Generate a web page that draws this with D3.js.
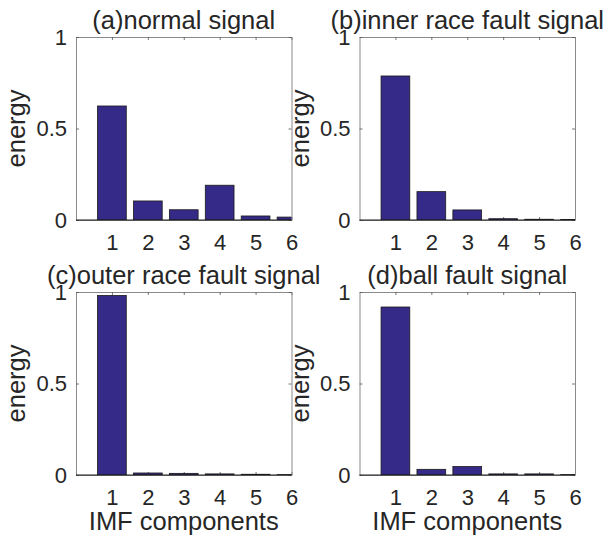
<!DOCTYPE html>
<html>
<head>
<meta charset="utf-8">
<script src="https://cdn.jsdelivr.net/npm/d3@7"></script>
<style>
  body { margin: 0; background: #fff; }
  text { font-family: "Liberation Sans", Arial, sans-serif; fill: #262626; }
</style>
</head>
<body>
<div id="chart"></div>
<script>
// IMF component index and y ticks
const components = [1, 2, 3, 4, 5, 6];
const yTickValues = [0, 0.5, 1];

// energy of each IMF component
const normalEnergy = [0.623, 0.104, 0.056, 0.190, 0.022, 0.016];
const innerRaceEnergy = [0.787, 0.155, 0.055, 0.007, 0.004, 0.003];
const outerRaceEnergy = [0.981, 0.011, 0.009, 0.006, 0.004, 0.002];
const ballEnergy = [0.918, 0.031, 0.046, 0.006, 0.006, 0.002];

const titles = ["(a)normal signal", "(b)inner race fault signal",
                "(c)outer race fault signal", "(d)ball fault signal"];

const svgW = 609, svgH = 536;
const axW = 215.5, axH = 183;
const barColor = "#352a87";

// panel layout (left, top of the axes box)
const panels = [
  { title: titles[0], values: normalEnergy,    left: 76,    top: 37,  xlabel: false },
  { title: titles[1], values: innerRaceEnergy, left: 359.5, top: 37,  xlabel: false },
  { title: titles[2], values: outerRaceEnergy, left: 76,    top: 292, xlabel: true },
  { title: titles[3], values: ballEnergy,      left: 359.5, top: 292, xlabel: true }
];

const svg = d3.select("#chart")
  .append("svg")
  .attr("width", svgW)
  .attr("height", svgH);

panels.forEach((p, i) => {
  const g = svg.append("g")
    .attr("transform", `translate(${p.left},${p.top})`);

  const x = d3.scaleLinear().domain([0, 6]).range([0, axW]);
  const y = d3.scaleLinear().domain([0, 1]).range([axH, 0]);
  const barW = x(0.8) - x(0);

  // clip to the axes box (bar 6 is cut in half at the right edge)
  g.append("clipPath")
    .attr("id", "clip" + i)
    .append("rect")
    .attr("width", axW)
    .attr("height", axH);

  // axes (ticks pointing inward)
  const bottom = g.append("g")
    .attr("transform", `translate(0,${axH})`)
    .call(d3.axisBottom(x).tickValues(components).tickFormat(d3.format("d"))
      .tickSizeInner(-3).tickSizeOuter(0).tickPadding(14));
  const top = g.append("g")
    .call(d3.axisTop(x).tickValues(components).tickFormat("").tickSizeInner(-3).tickSizeOuter(0));
  const left = g.append("g")
    .call(d3.axisLeft(y).tickValues(yTickValues).tickFormat(d3.format(""))
      .tickSizeInner(-3).tickSizeOuter(0).tickPadding(9));
  const right = g.append("g")
    .attr("transform", `translate(${axW},0)`)
    .call(d3.axisRight(y).tickValues(yTickValues).tickFormat("").tickSizeInner(-3).tickSizeOuter(0));

  [bottom, top, left, right].forEach(a => {
    a.select(".domain").attr("stroke", "#8a8a8a").attr("stroke-width", 1);
    a.selectAll(".tick line").attr("stroke", "#555").attr("stroke-width", 0.8);
    a.selectAll(".tick text")
      .style("font-family", '"Liberation Sans", Arial, sans-serif')
      .style("font-size", "22px")
      .attr("fill", "#262626");
  });

  // bars
  g.append("g")
    .attr("clip-path", `url(#clip${i})`)
    .selectAll("rect")
    .data(p.values)
    .join("rect")
    .attr("x", (d, j) => x(components[j]) - barW / 2)
    .attr("y", d => y(d))
    .attr("width", barW)
    .attr("height", d => y(0) - y(d))
    .attr("fill", barColor)
    .attr("stroke", "#1a1a1a")
    .attr("stroke-width", 0.8);

  // bar baseline
  g.append("line")
    .attr("x1", 0).attr("x2", axW)
    .attr("y1", y(0)).attr("y2", y(0))
    .attr("stroke", "#1a1a1a")
    .attr("stroke-width", 1);

  // title
  g.append("text")
    .attr("x", axW / 2)
    .attr("y", -8)
    .attr("text-anchor", "middle")
    .style("font-size", "25.5px")
    .text(p.title);

  // y label
  g.append("text")
    .attr("transform", `translate(-51,${axH / 2}) rotate(-90)`)
    .attr("text-anchor", "middle")
    .style("font-size", "25.5px")
    .text("energy");

  // x label
  if (p.xlabel) {
    g.append("text")
      .attr("x", axW / 2)
      .attr("y", axH + 55)
      .attr("text-anchor", "middle")
      .style("font-size", "25.5px")
      .text("IMF components");
  }
});
</script>
</body>
</html>
